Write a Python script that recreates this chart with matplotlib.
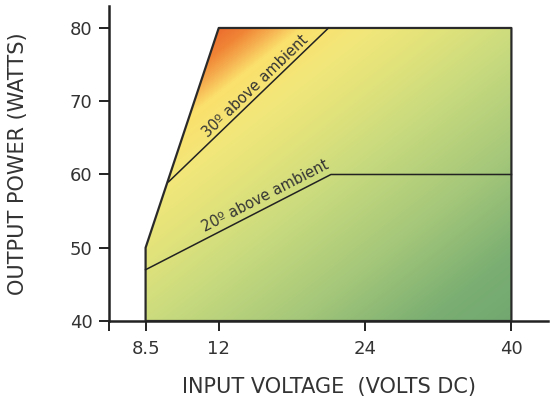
import numpy as np
import matplotlib
matplotlib.use('Agg')
import matplotlib.pyplot as plt
from matplotlib.patches import Polygon
from matplotlib.colors import LinearSegmentedColormap

# operating envelope (input volts, output watts)
env_v = [8.5, 8.5, 12, 40, 40]
env_w = [40, 50, 80, 80, 40]

# temperature-rise boundaries
rise30_v = [9.6, 21.0]
rise30_w = [59, 80]
rise20_v = [8.5, 21.2, 40]
rise20_w = [47, 60, 60]

xticks = [8.5, 12, 24, 40]
yticks = [40, 50, 60, 70, 80]

# the voltage axis is stretched piecewise (8.5-12 is half a step)
knot_v = [5, 8.5, 12, 24, 40, 48]
knot_p = [-1, 0, 1, 3, 5, 6]

def fwd(v):
    return np.interp(v, knot_v, knot_p)

def inv(p):
    return np.interp(p, knot_p, knot_v)

fig = plt.figure(figsize=(5.5, 4.08), dpi=100)
ax = fig.add_axes([109/550, 1 - 321/408, 439/550, 315/408])
ax.set_xscale('function', functions=(fwd, inv))
ax.set_xlim(6.75, 44)
ax.set_ylim(40, 83)

# diagonal gradient, orange top-left to green bottom-right
stops = [(0.00, '#ec6f2e'), (0.04, '#f08536'), (0.08, '#f6b050'),
         (0.12, '#fbe06c'), (0.22, '#f2e77a'), (0.34, '#e0e27b'),
         (0.46, '#cadb7e'), (0.67, '#a6c87a'), (0.875, '#7aae72'),
         (1.00, '#72a870')]
cmap = LinearSegmentedColormap.from_list('heat', stops)
px = np.linspace(109, 548, 440)
py = np.linspace(6, 321, 316)
gx, gy = np.meshgrid(px, py)
t = (0.78 * (gx - 220) + (gy - 28)) / 521
img = ax.imshow(np.clip(t, 0, 1), cmap=cmap, vmin=0, vmax=1,
                extent=(0, 1, 0, 1), transform=ax.transAxes,
                aspect='auto', interpolation='bilinear', zorder=1)

env = Polygon(list(zip(env_v, env_w)), closed=True, facecolor='none',
              edgecolor='#2a2a2a', linewidth=1.6, joinstyle='round', zorder=3)
ax.add_patch(env)
img.set_clip_path(env)

ax.plot(rise30_v, rise30_w, color='#222222', linewidth=1.1, zorder=3)
ax.plot(rise20_v, rise20_w, color='#222222', linewidth=1.1, zorder=3)

fig.canvas.draw()

def angle(v, w):
    p = ax.transData.transform(np.column_stack([v[:2], w[:2]]))
    return np.degrees(np.arctan2(p[1, 1] - p[0, 1], p[1, 0] - p[0, 0]))

ax.text(15.0, 72.1, '30º above ambient', rotation=angle(rise30_v, rise30_w),
        rotation_mode='anchor', ha='center', va='center', fontsize=10.5,
        color='#333333', zorder=4)
ax.text(15.8, 57.1, '20º above ambient', rotation=angle(rise20_v, rise20_w),
        rotation_mode='anchor', ha='center', va='center', fontsize=10.5,
        color='#333333', zorder=4)

for s in ['top', 'right']:
    ax.spines[s].set_visible(False)
for s in ['left', 'bottom']:
    ax.spines[s].set_linewidth(1.8)
    ax.spines[s].set_color('#222222')

ax.set_xticks(xticks)
ax.set_xticklabels(['8.5', '12', '24', '40'])
ax.set_xticks([6.75], minor=True)
ax.set_yticks(yticks)
ax.tick_params(axis='both', which='both', direction='out', length=7,
               width=1.4, color='#222222', labelsize=13, labelcolor='#333333')
ax.tick_params(axis='x', pad=7)
ax.tick_params(axis='y', pad=5)

ax.set_xlabel('INPUT VOLTAGE  (VOLTS DC)', fontsize=15, color='#333333')
ax.set_ylabel('OUTPUT POWER (WATTS)', fontsize=15, color='#333333')
ax.xaxis.set_label_coords(0.5, -0.178)
ax.yaxis.set_label_coords(-0.185, 0.5)

plt.savefig('out.png', dpi=100)
